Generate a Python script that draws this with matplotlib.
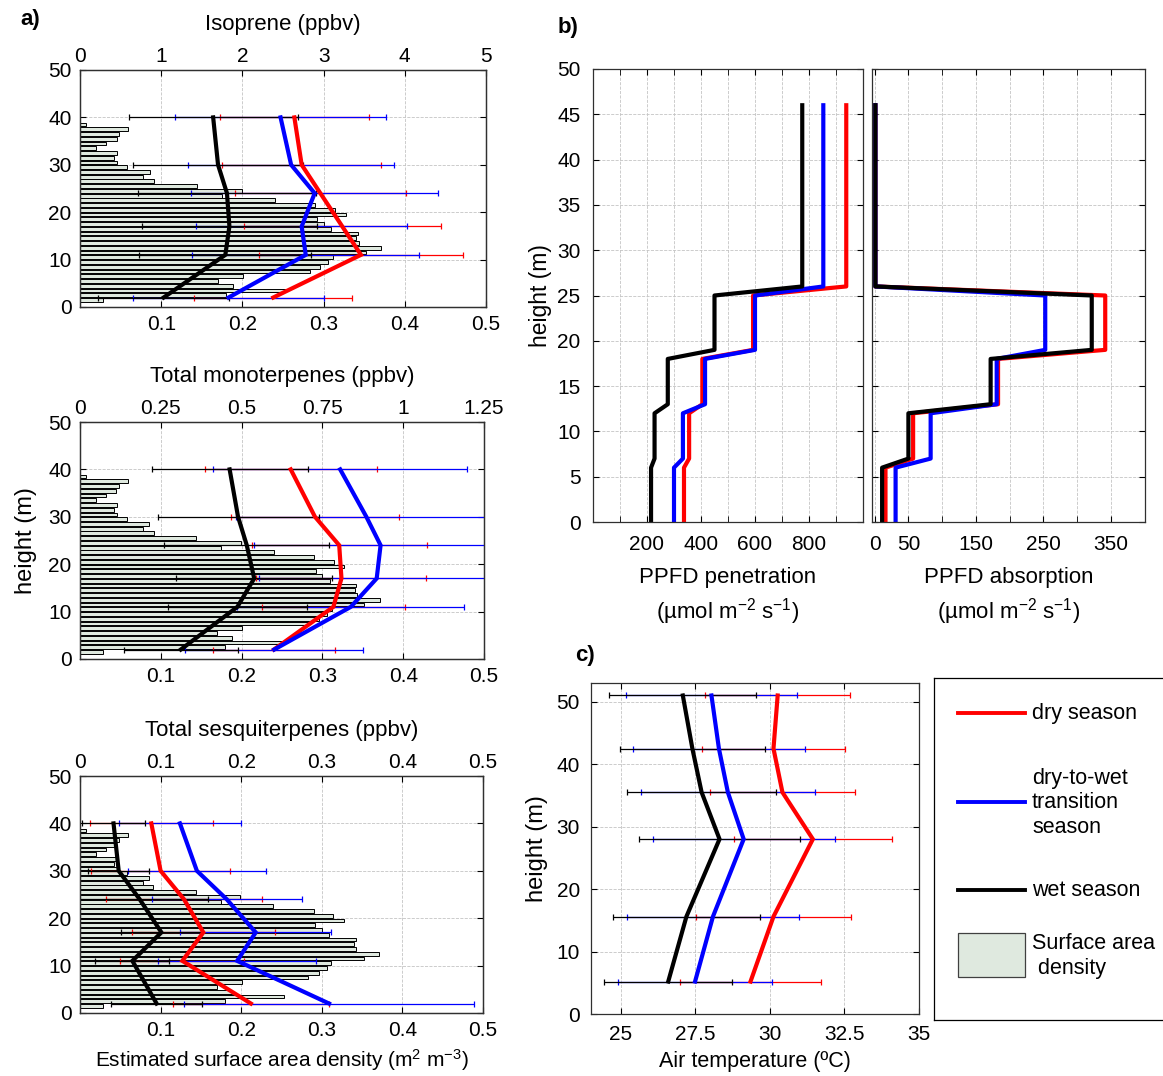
import numpy as np
import matplotlib
matplotlib.use('Agg')
import matplotlib.pyplot as plt
from matplotlib.patches import Rectangle

plt.rcParams['font.family'] = ['Liberation Sans', 'DejaVu Sans']
plt.rcParams['mathtext.fontset'] = 'custom'
plt.rcParams['mathtext.rm'] = 'Liberation Sans'
plt.rcParams['mathtext.it'] = 'Liberation Sans:italic'
plt.rcParams['axes.linewidth'] = 0.9
plt.rcParams['axes.edgecolor'] = '#303030'

RED, BLUE, BLACK = '#ff0000', '#0000ff', '#000000'
SAD_FILL = '#dfe9df'
GRID = dict(color='#c4c4c4', linestyle='--', linewidth=0.6)

# ---- surface area density (m2 m-3), 1 m layers from 1-2 m up to 38-39 m
sad_heights = np.arange(1.5, 39, 1.0)
sad_values = [0.028, 0.180, 0.253, 0.188, 0.170, 0.201, 0.283, 0.296, 0.306, 0.312,
              0.352, 0.371, 0.343, 0.340, 0.342, 0.309, 0.300, 0.292, 0.327, 0.314,
              0.290, 0.240, 0.175, 0.199, 0.144, 0.091, 0.078, 0.086, 0.058, 0.046,
              0.042, 0.046, 0.020, 0.032, 0.045, 0.048, 0.059, 0.008]

# ---- VOC profiles (ppbv), mean and sd at each inlet height
voc_heights = [2, 11, 17, 24, 30, 40]

iso_dry = [2.38, 3.46, 3.23, 2.96, 2.73, 2.64]
iso_dry_sd = [0.97, 1.26, 1.21, 1.05, 0.98, 0.92]
iso_trans = [1.83, 2.78, 2.73, 2.89, 2.60, 2.47]
iso_trans_sd = [1.18, 1.40, 1.30, 1.52, 1.27, 1.30]
iso_wet = [1.03, 1.79, 1.84, 1.81, 1.70, 1.64]
iso_wet_sd = [0.81, 1.06, 1.08, 1.10, 1.05, 1.04]

mono_dry = [0.600, 0.784, 0.809, 0.802, 0.727, 0.652]
mono_dry_sd = [0.190, 0.221, 0.263, 0.271, 0.260, 0.266]
mono_trans = [0.601, 0.838, 0.918, 0.930, 0.886, 0.805]
mono_trans_sd = [0.276, 0.351, 0.364, 0.393, 0.403, 0.392]
mono_wet = [0.312, 0.487, 0.539, 0.516, 0.489, 0.463]
mono_wet_sd = [0.177, 0.216, 0.242, 0.255, 0.249, 0.241]

sesq_dry = [0.212, 0.127, 0.153, 0.129, 0.100, 0.0885]
sesq_dry_sd = [0.097, 0.077, 0.089, 0.097, 0.086, 0.076]
sesq_trans = [0.309, 0.195, 0.218, 0.182, 0.145, 0.124]
sesq_trans_sd = [0.180, 0.098, 0.094, 0.093, 0.086, 0.076]
sesq_wet = [0.095, 0.065, 0.101, 0.074, 0.048, 0.0416]
sesq_wet_sd = [0.056, 0.046, 0.050, 0.085, 0.038, 0.0386]

# ---- PPFD profiles (umol m-2 s-1)
ppfd_heights = [0, 6, 7, 12, 13, 18, 19, 25, 26, 46]
pen_dry = [337, 337, 356, 356, 405, 405, 593, 593, 938, 938]
pen_trans = [300, 300, 333, 333, 415, 415, 600, 600, 853, 853]
pen_wet = [215, 215, 228, 228, 277, 277, 450, 450, 775, 775]
abs_dry = [16, 16, 57, 57, 183, 183, 342, 342, 1, 1]
abs_trans = [31, 31, 83, 83, 181, 181, 253, 253, 1, 1]
abs_wet = [11, 11, 50, 50, 172, 172, 322, 322, 1, 1]

# ---- air temperature (C)
t_heights = [5.2, 15.6, 28, 35.5, 42.5, 51]
t_dry = [29.35, 30.12, 31.44, 30.42, 30.12, 30.26]
t_dry_sd = [2.38, 2.61, 2.64, 2.44, 2.39, 2.43]
t_trans = [27.49, 28.09, 29.12, 28.59, 28.29, 28.04]
t_trans_sd = [2.57, 2.89, 3.05, 2.92, 2.89, 2.87]
t_wet = [26.59, 27.20, 28.31, 27.71, 27.40, 27.08]
t_wet_sd = [2.15, 2.47, 2.70, 2.51, 2.43, 2.46]

W, H = 1163, 1076
fig = plt.figure(figsize=(W / 100, H / 100), dpi=100)


def rect(x0, y0, x1, y1):
    # pixel box (top-left origin) -> figure fraction
    return [x0 / W, (H - y1) / H, (x1 - x0) / W, (y1 - y0) / H]


def draw_profiles(ax, heights, series, lw=3.0):
    for mean, sd, c in series:
        ax.errorbar(mean, heights, xerr=sd, fmt='none', ecolor=c, elinewidth=0.9,
                    capsize=2.5, capthick=0.9)
    for mean, sd, c in series:
        ax.plot(mean, heights, color=c, lw=lw, solid_joinstyle='miter')


def voc_panel(box, title, top_max, top_ticks, top_labels, series, xlabel=None, ylabel=None):
    ax = fig.add_axes(rect(*box))
    ax.barh(sad_heights, sad_values, height=0.8, color=SAD_FILL, edgecolor='k',
            linewidth=0.7, zorder=1)
    ax.set_xlim(0, 0.5)
    ax.set_ylim(0, 50)
    ax.set_xticks([0.1, 0.2, 0.3, 0.4, 0.5])
    ax.set_xticklabels(['0.1', '0.2', '0.3', '0.4', '0.5'])
    ax.set_yticks(range(0, 51, 10))
    ax.grid(True, **GRID)
    ax.set_axisbelow(True)
    ax.tick_params(direction='in', length=4, labelsize=15, right=True, top=False, pad=6)
    if xlabel:
        ax.set_xlabel(xlabel, fontsize=15, labelpad=5)
    if ylabel:
        ax.set_ylabel(ylabel, fontsize=17, labelpad=8)

    tw = ax.twiny()
    tw.set_xlim(0, top_max)
    tw.set_xticks(top_ticks)
    tw.set_xticklabels(top_labels)
    tw.tick_params(direction='in', length=4, labelsize=15, pad=3)
    tw.set_xlabel(title, fontsize=16, labelpad=12)
    draw_profiles(tw, voc_heights, series)
    return ax


voc_panel((80, 70, 486, 307), 'Isoprene (ppbv)', 5, range(6), [str(i) for i in range(6)],
          [(iso_dry, iso_dry_sd, RED), (iso_trans, iso_trans_sd, BLUE), (iso_wet, iso_wet_sd, BLACK)])
voc_panel((80, 422, 484, 659), 'Total monoterpenes (ppbv)', 1.25,
          [0, 0.25, 0.5, 0.75, 1, 1.25], ['0', '0.25', '0.5', '0.75', '1', '1.25'],
          [(mono_dry, mono_dry_sd, RED), (mono_trans, mono_trans_sd, BLUE), (mono_wet, mono_wet_sd, BLACK)],
          ylabel='height (m)')
voc_panel((80, 776, 483, 1013), 'Total sesquiterpenes (ppbv)', 0.5,
          [0, 0.1, 0.2, 0.3, 0.4, 0.5], ['0', '0.1', '0.2', '0.3', '0.4', '0.5'],
          [(sesq_dry, sesq_dry_sd, RED), (sesq_trans, sesq_trans_sd, BLUE), (sesq_wet, sesq_wet_sd, BLACK)],
          xlabel='Estimated surface area density (m$^{2}$ m$^{-3}$)')

# ---- panel b
axp = fig.add_axes(rect(593, 69, 863, 522))
for x, c in [(pen_dry, RED), (pen_trans, BLUE), (pen_wet, BLACK)]:
    axp.plot(x, ppfd_heights, color=c, lw=3.0)
axp.set_xlim(0, 1000)
axp.set_ylim(0, 50)
axp.set_xticks([200, 400, 600, 800])
axp.set_xticks(range(100, 1000, 100), minor=True)
axp.set_yticks(range(0, 51, 5))
axp.grid(True, which='both', **GRID)
axp.tick_params(which='both', direction='in', length=4, labelsize=15, top=True, right=True, pad=9)
axp.set_xlabel('PPFD penetration\n(µmol m$^{-2}$ s$^{-1}$)', fontsize=16, labelpad=10, linespacing=1.35)
axp.set_ylabel('height (m)', fontsize=16.5, labelpad=4)

axa = fig.add_axes(rect(872, 69, 1145, 522))
for x, c in [(abs_dry, RED), (abs_trans, BLUE), (abs_wet, BLACK)]:
    axa.plot(x, ppfd_heights, color=c, lw=3.0)
axa.set_xlim(-4, 401)
axa.set_ylim(0, 50)
axa.set_xticks([0, 50, 150, 250, 350])
axa.set_xticks([100, 200, 300], minor=True)
axa.set_yticks(range(0, 51, 5))
axa.set_yticklabels([])
axa.grid(True, which='both', **GRID)
axa.tick_params(which='both', direction='in', length=4, labelsize=15, top=True, right=True, pad=9)
axa.set_xlabel('PPFD absorption\n(µmol m$^{-2}$ s$^{-1}$)', fontsize=16, labelpad=10, linespacing=1.35)

# ---- panel c
axt = fig.add_axes(rect(591, 683, 919, 1014))
draw_profiles(axt, t_heights, [(t_dry, t_dry_sd, RED), (t_trans, t_trans_sd, BLUE), (t_wet, t_wet_sd, BLACK)])
axt.set_xlim(24, 35)
axt.set_ylim(0, 53)
axt.set_xticks([25, 27.5, 30, 32.5, 35])
axt.set_xticklabels(['25', '27.5', '30', '32.5', '35'])
axt.set_yticks(range(0, 51, 10))
axt.grid(True, **GRID)
axt.tick_params(direction='in', length=4, labelsize=15, top=True, right=True, pad=8)
axt.set_xlabel('Air temperature (ºC)', fontsize=15.5, labelpad=5)
axt.set_ylabel('height (m)', fontsize=17, labelpad=6)

# ---- legend box (runs off the right edge like the original)
lg = fig.add_axes(rect(934, 678, 1180, 1020))
lg.set_xlim(934, 1180)
lg.set_ylim(1020, 678)
lg.set_xticks([])
lg.set_yticks([])
for spine in lg.spines.values():
    spine.set_color('k')
lg.plot([958, 1025], [713, 713], color=RED, lw=2.8)
lg.text(1032, 713, 'dry season', fontsize=15.5, va='center')
lg.plot([958, 1025], [802, 802], color=BLUE, lw=2.8)
lg.text(1032, 803, 'dry-to-wet\ntransition\nseason', fontsize=15.5, va='center', linespacing=1.2)
lg.plot([958, 1025], [890, 890], color=BLACK, lw=2.8)
lg.text(1032, 890, 'wet season', fontsize=15.5, va='center')
lg.add_patch(Rectangle((958, 933), 67, 44, facecolor=SAD_FILL, edgecolor='#404040', lw=0.9))
lg.text(1032, 956, 'Surface area\n density', fontsize=15.5, va='center', linespacing=1.2)

fig.text(20 / W, 1 - 20 / H, 'a)', fontsize=16, fontweight='bold', va='center')
fig.text(558 / W, 1 - 28 / H, 'b)', fontsize=16, fontweight='bold', va='center')
fig.text(575 / W, 1 - 655 / H, 'c)', fontsize=16, fontweight='bold', va='center')

fig.savefig('out.png', dpi=100)
